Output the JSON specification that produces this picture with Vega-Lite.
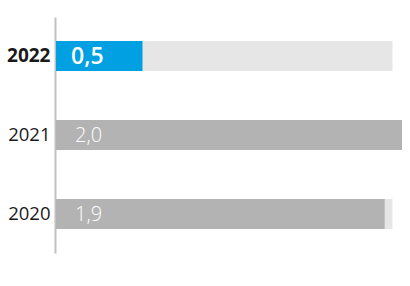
{
  "$schema": "https://vega.github.io/schema/vega-lite/v6.json",
  "width": 346,
  "height": 236,
  "autosize": {"type": "none"},
  "padding": {"left": 56, "top": 17, "right": 8, "bottom": 33},
  "background": "white",
  "config": {
    "view": {"stroke": null},
    "locale": {"number": {"decimal": ",", "thousands": ".", "grouping": [3], "currency": ["", " €"]}}
  },
  "data": {
    "values": [
      {"year": "2022", "value": 0.5, "track": 1.945},
      {"year": "2021", "value": 2.0, "track": 1.945},
      {"year": "2020", "value": 1.9, "track": 1.945}
    ]
  },
  "encoding": {
    "y": {
      "field": "year",
      "type": "nominal",
      "sort": ["2022", "2021", "2020"],
      "scale": {"paddingInner": 0.62, "paddingOuter": 0.304},
      "axis": {
        "title": null,
        "domainColor": "#c0c0c0",
        "domainWidth": 2,
        "ticks": false,
        "offset": 1,
        "labelPadding": 5,
        "labelFontSize": {"condition": {"test": "datum.value == '2022'", "value": 19}, "value": 18.5},
        "labelColor": "#1a1a1a",
        "labelFont": "Open Sans",
        "labelFontWeight": {"condition": {"test": "datum.value == '2022'", "value": "bold"}, "value": "normal"}
      }
    }
  },
  "layer": [
    {
      "mark": {"type": "bar", "color": "#e6e6e6"},
      "encoding": {
        "x": {"field": "track", "type": "quantitative", "scale": {"domain": [0, 2], "nice": false, "zero": true}, "axis": null}
      }
    },
    {
      "mark": {"type": "bar"},
      "encoding": {
        "x": {"field": "value", "type": "quantitative", "scale": {"domain": [0, 2], "nice": false}, "axis": null},
        "color": {"condition": {"test": "datum.year == '2022'", "value": "#00a0e3"}, "value": "#b3b3b3"}
      }
    },
    {
      "transform": [{"filter": "datum.year == '2022'"}],
      "mark": {"type": "text", "align": "left", "baseline": "middle", "dx": 15, "dy": 1, "font": "Open Sans", "fontWeight": 600, "fontSize": 23, "color": "white"},
      "encoding": {
        "x": {"datum": 0, "type": "quantitative", "scale": {"domain": [0, 2], "nice": false}},
        "text": {"field": "value", "type": "quantitative", "format": ".1f"}
      }
    },
    {
      "transform": [{"filter": "datum.year != '2022'"}],
      "mark": {"type": "text", "align": "left", "baseline": "middle", "dx": 19, "dy": 1, "font": "Open Sans", "fontWeight": 300, "fontSize": 20, "color": "white"},
      "encoding": {
        "x": {"datum": 0, "type": "quantitative", "scale": {"domain": [0, 2], "nice": false}},
        "text": {"field": "value", "type": "quantitative", "format": ".1f"}
      }
    }
  ]
}
